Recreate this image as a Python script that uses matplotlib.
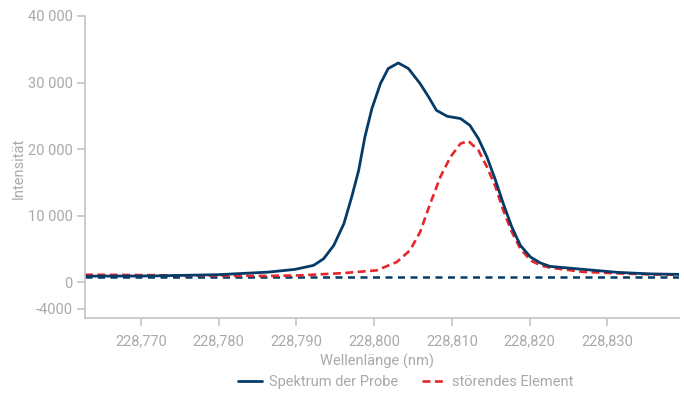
import matplotlib
matplotlib.use("Agg")
import matplotlib.pyplot as plt

plt.rcParams['font.family'] = ['Roboto', 'DejaVu Sans']

# wavelength (nm) and intensity
probe_wl = [228.7628, 228.7712, 228.7799, 228.7864, 228.7898, 228.7922, 228.7935,
            228.7948, 228.7961, 228.7971, 228.7980, 228.7988, 228.7997, 228.8008,
            228.8018, 228.8031, 228.8044, 228.8059, 228.8070, 228.8080, 228.8094,
            228.8111, 228.8123, 228.8134, 228.8145, 228.8156, 228.8166, 228.8177,
            228.8188, 228.8201, 228.8214, 228.8226, 228.8269, 228.8313, 228.8355,
            228.8392]
probe_int = [890, 920, 1110, 1500, 1910, 2510, 3520,
             5520, 8780, 12780, 16800, 21810, 26080, 29840,
             32100, 32940, 32100, 29840, 27820, 25820, 24920,
             24580, 23570, 21570, 18800, 15300, 11790, 8270,
             5520, 3760, 2860, 2360, 1910, 1460, 1230,
             1160]

elem_wl = [228.7628, 228.7712, 228.7799, 228.7864, 228.7905, 228.7960, 228.8003,
           228.8029, 228.8046, 228.8059, 228.8072, 228.8085, 228.8098, 228.8111,
           228.8121, 228.8134, 228.8145, 228.8156, 228.8166, 228.8177, 228.8188,
           228.8201, 228.8214, 228.8226, 228.8269, 228.8313, 228.8355, 228.8392]
elem_int = [1110, 1040, 950, 930, 1010, 1350, 1760,
            3010, 4770, 7520, 11790, 15790, 18800, 20820,
            21210, 19810, 17300, 14330, 10780, 7520, 5020,
            3260, 2510, 2170, 1530, 1310, 1160, 1080]

baseline_wl = [228.7628, 228.8392]
baseline_int = [750, 750]

x_ticks = [228.77, 228.78, 228.79, 228.80, 228.81, 228.82, 228.83]
x_labels = ['228,770', '228,780', '228,790', '228,800', '228,810', '228,820', '228,830']
y_ticks = [40000, 30000, 20000, 10000, 0, -4000]
y_labels = ['40 000', '30 000', '20 000', '10 000', '0', '-4000']

navy = '#053b66'
red = '#e5262a'
grey = '#a9a9a9'
axis_grey = '#c4c4c4'

fig = plt.figure(figsize=(6.84, 3.94), dpi=100)
ax = fig.add_axes([85 / 684, 1 - 318 / 394, (679 - 85) / 684, (318 - 16) / 394])

ax.plot(baseline_wl, baseline_int, color=navy, linewidth=1.8, dashes=(2.8, 2.2))
ax.plot(elem_wl, elem_int, color=red, linewidth=1.9, dashes=(3.0, 1.7),
        label='störendes Element', dash_joinstyle='round')
ax.plot(probe_wl, probe_int, color=navy, linewidth=2.0, label='Spektrum der Probe',
        solid_joinstyle='round', solid_capstyle='round')

ax.set_xlim(228.7628, 228.8392)
ax.set_ylim(-5400, 40000)

ax.set_xticks(x_ticks)
ax.set_xticklabels(x_labels)
ax.set_yticks(y_ticks)
ax.set_yticklabels(y_labels)

for side in ['top', 'right']:
    ax.spines[side].set_visible(False)
for side in ['left', 'bottom']:
    ax.spines[side].set_color(axis_grey)
    ax.spines[side].set_linewidth(1.2)

ax.tick_params(axis='both', colors=axis_grey, labelcolor=grey, labelsize=10.5,
               length=6, width=1.2)
ax.tick_params(axis='x', pad=6)
ax.tick_params(axis='y', pad=3)

fig.text(19 / 684, 1 - 168 / 394, 'Intensität', rotation=90, color=grey,
         fontsize=10.5, ha='center', va='center')
fig.text(377 / 684, 1 - 361 / 394, 'Wellenlänge (nm)', color=grey,
         fontsize=10.5, ha='center', va='center')

handles, labels = ax.get_legend_handles_labels()
order = [1, 0]
leg = fig.legend([handles[i] for i in order], [labels[i] for i in order],
                 loc='center', bbox_to_anchor=(406 / 684, 1 - 382 / 394),
                 ncol=2, frameon=False, fontsize=10.5, handlelength=1.6,
                 columnspacing=1.6, handletextpad=0.5)
for t in leg.get_texts():
    t.set_color(grey)

fig.savefig('out.png', dpi=100)
